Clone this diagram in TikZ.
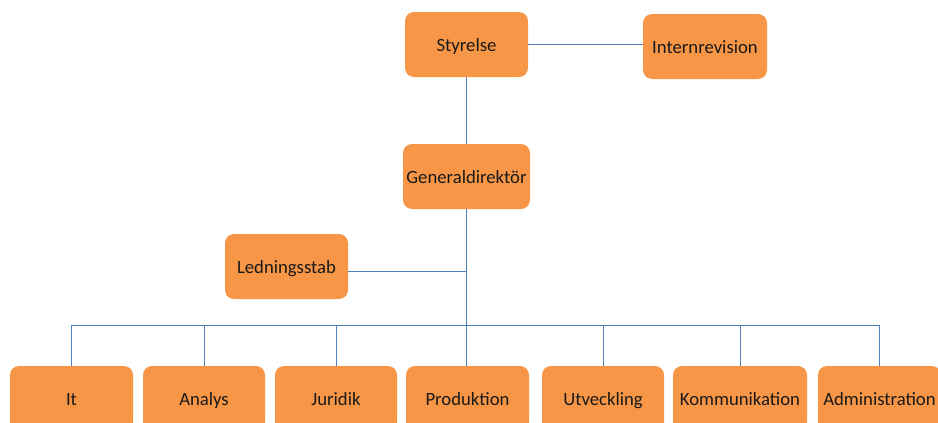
\documentclass[tikz,border=0pt]{standalone}
\usepackage{fontspec}
\setmainfont{Carlito}
\definecolor{boxorange}{HTML}{F79646}
\definecolor{lineblue}{HTML}{4F81BD}
\tikzset{
  unit/.style={rectangle,rounded corners=9pt,fill=boxorange,minimum width=123pt,
    minimum height=65pt,inner sep=0pt,text height=18pt,text depth=4pt,
    text=black!90,font=\fontsize{18.7}{22}\selectfont},
  conn/.style={draw=lineblue,line width=1pt}
}
\begin{document}
\begin{tikzpicture}[x=1pt,y=-1pt]
    \useasboundingbox (0,0) rectangle (938,423);
    \clip (0,0) rectangle (938,423);
    %top
    \node[unit] (sty) at (466.5,44.5) {Styrelse};
    \node[unit,minimum width=124pt] (int) at (705,46.5) {Internrevision};
    \node[unit,minimum width=127pt] (gen) at (466.5,176.5) {Generaldirektör};
    \node[unit] (led) at (286.5,266.5) {Ledningsstab};
    %bus
    \coordinate (busL) at (71,325);
    \coordinate (busR) at (880,325);
    %lines
    \draw[conn] (sty.east) -- (sty.east -| int.west);
    \draw[conn] (sty.south) -- (gen.north);
    \draw[conn] ([yshift=-4.5pt]led.east) -- ([yshift=-4.5pt]led.east -| gen.south);
    \draw[conn] (busL) -- (busR);
    %units
    \foreach \nm/\x/\w/\txt in {it/71.5/123/It, ana/204/122/Analys, jur/336/122/Juridik,
        utv/603/122/Utveckling, kom/740/134/Kommunikation,
        adm/879.5/123/Administration} {
      \node[unit,minimum width=\w pt] (\nm) at (\x,398.5) {\txt};
      \draw[conn] (\nm.north) -- (\nm.north |- busL);
    }
    \node[unit] (pro) at (467.5,398.5) {Produktion};
    \draw[conn] (gen.south) -- (gen.south |- pro.north);
\end{tikzpicture}
\end{document}
